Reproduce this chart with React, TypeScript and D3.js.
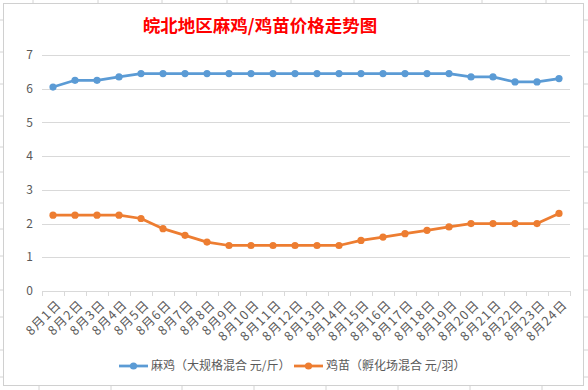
import * as d3 from "d3";

const W = 588;
const H = 390;
const MARGIN = { top: 55, right: 18, bottom: 99, left: 42 };

const dates = [
  "8月1日", "8月2日", "8月3日", "8月4日", "8月5日", "8月6日", "8月7日", "8月8日",
  "8月9日", "8月10日", "8月11日", "8月12日", "8月13日", "8月14日", "8月15日", "8月16日",
  "8月17日", "8月18日", "8月19日", "8月20日", "8月21日", "8月22日", "8月23日", "8月24日",
];
const broilerPrice = [
  6.05, 6.25, 6.25, 6.35, 6.45, 6.45, 6.45, 6.45, 6.45, 6.45, 6.45, 6.45,
  6.45, 6.45, 6.45, 6.45, 6.45, 6.45, 6.45, 6.35, 6.35, 6.2, 6.2, 6.3,
];
const chickPrice = [
  2.25, 2.25, 2.25, 2.25, 2.15, 1.85, 1.65, 1.45, 1.35, 1.35, 1.35, 1.35,
  1.35, 1.35, 1.5, 1.6, 1.7, 1.8, 1.9, 2.0, 2.0, 2.0, 2.0, 2.3,
];
const yTicks = [0, 1, 2, 3, 4, 5, 6, 7];
const seriesNames = ["麻鸡（大规格混合 元/斤）", "鸡苗（孵化场混合 元/羽）"];
const colors = ["#5B9BD5", "#ED7D31"];

// spreadsheet cell lines peeking out around the chart object
const cellCols = [33, 98, 162, 227, 291, 354, 418, 482, 546];
const cellColsBottom = [39, 111, 182, 254, 326, 398, 470, 542];
const cellRows = [20, 52, 84, 116, 147, 172, 203, 229, 256, 290, 317, 350, 377];

const FONT = "'Noto Sans CJK SC', 'Microsoft YaHei', sans-serif";

export default function App() {
  const innerW = W - MARGIN.left - MARGIN.right;
  const innerH = H - MARGIN.top - MARGIN.bottom;

  const x = d3.scaleBand<string>().domain(dates).range([0, innerW]);
  const y = d3.scaleLinear().domain([0, 7]).range([innerH, 0]);
  const cx = (d: string) => (x(d) || 0) + x.bandwidth() / 2;

  const line = d3
    .line<number>()
    .x((_, i) => cx(dates[i]))
    .y((v) => y(v));

  const series = [broilerPrice, chickPrice];

  return (
    <svg
      width={W}
      height={H}
      style={{ position: "absolute", left: 0, top: 0, background: "#fff" }}
      fontFamily={FONT}
    >
      {/* cell grid outside the chart */}
      {cellCols.map((c) => (
        <line key={"ct" + c} x1={c} x2={c} y1={0} y2={3} stroke="#D4D4D4" />
      ))}
      {cellColsBottom.map((c) => (
        <line key={"cb" + c} x1={c} x2={c} y1={386} y2={H} stroke="#D4D4D4" />
      ))}
      {cellRows.map((r) => (
        <g key={"r" + r}>
          <line x1={0} x2={3} y1={r} y2={r} stroke="#D4D4D4" />
          <line x1={584} x2={W} y1={r} y2={r} stroke="#D4D4D4" />
        </g>
      ))}
      <rect x={3.5} y={3.5} width={580} height={382} fill="#fff" stroke="#D0D0D0" />

      <text
        x={260}
        y={32}
        textAnchor="middle"
        fontSize={17.5}
        fontWeight="bold"
        fill="#FF0000"
      >
        皖北地区麻鸡/鸡苗价格走势图
      </text>

      <g transform={`translate(${MARGIN.left},${MARGIN.top})`}>
        {yTicks.map((t) => (
          <g key={t}>
            {t > 0 && (
              <line
                x1={0}
                x2={innerW}
                y1={Math.round(y(t)) + 0.5}
                y2={Math.round(y(t)) + 0.5}
                stroke="#D9D9D9"
              />
            )}
            <text
              x={-9}
              y={y(t)}
              dy="0.35em"
              textAnchor="end"
              fontSize={12}
              fill="#595959"
            >
              {t}
            </text>
          </g>
        ))}
        <line x1={0} x2={innerW} y1={innerH + 0.5} y2={innerH + 0.5} stroke="#D9D9D9" />
        {[...dates, ""].map((d, i) => {
          const px = Math.round(i * x.step()) + 0.5;
          return (
            <line key={"tk" + i} x1={px} x2={px} y1={innerH} y2={innerH + 5} stroke="#D9D9D9" />
          );
        })}
        {dates.map((d) => (
          <text
            key={d}
            transform={`translate(${cx(d) + 3},${innerH + 8}) rotate(-45)`}
            textAnchor="end"
            dy="0.7em"
            fontSize={12.5}
            letterSpacing={1.2}
            fill="#595959"
          >
            {d}
          </text>
        ))}

        {series.map((s, si) => (
          <g key={si}>
            <path
              d={line(s) || ""}
              fill="none"
              stroke={colors[si]}
              strokeWidth={2.75}
              strokeLinejoin="round"
              strokeLinecap="round"
            />
            {s.map((v, i) => (
              <circle key={i} cx={cx(dates[i])} cy={y(v)} r={3.6} fill={colors[si]} />
            ))}
          </g>
        ))}
      </g>

      {/* legend */}
      {seriesNames.map((name, i) => {
        const lx = i === 0 ? 119 : 294;
        return (
          <g key={name} transform={`translate(${lx},366)`}>
            <line x1={0} x2={29} y1={0} y2={0} stroke={colors[i]} strokeWidth={2.75} />
            <circle cx={14.5} cy={0} r={3.6} fill={colors[i]} />
            <text x={32} dy="0.35em" fontSize={12} fill="#595959">
              {name}
            </text>
          </g>
        );
      })}
    </svg>
  );
}
